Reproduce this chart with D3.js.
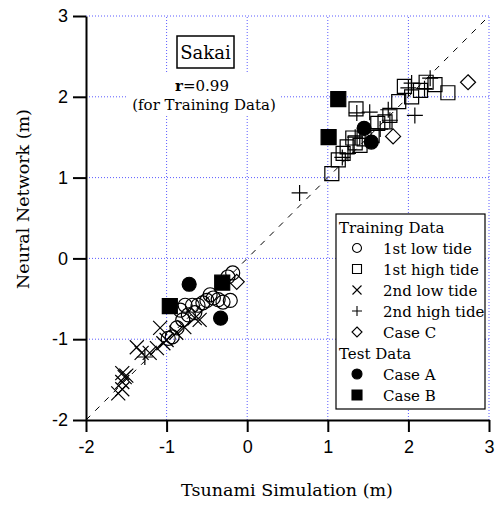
<!DOCTYPE html>
<html>
<head>
<meta charset="utf-8">
<script src="https://cdn.jsdelivr.net/npm/d3@7"></script>
<style>
  body { margin: 0; background: #fff; }
  svg { display: block; }
</style>
</head>
<body>
<svg width="498" height="506"></svg>
<script>
// ticks
const xTicks = [-2, -1, 0, 1, 2, 3];
const yTicks = [-2, -1, 0, 1, 2, 3];

// training data (x = simulation, y = network)
const lowTide1 = [[-0.18,-0.18],[-0.24,-0.23],[-0.21,-0.52],[-0.30,-0.54],[-0.36,-0.51],[-0.46,-0.45],
  [-0.42,-0.49],[-0.55,-0.55],[-0.61,-0.58],[-0.68,-0.58],[-0.77,-0.58],[-0.83,-0.64],[-0.73,-0.70],
  [-0.80,-0.76],[-0.87,-0.86],[-0.93,-0.97],[-0.98,-0.99],[-0.50,-0.52],[-0.65,-0.67]];
const highTide1 = [[1.05,1.05],[1.13,1.22],[1.19,1.30],[1.24,1.38],[1.34,1.43],[1.40,1.40],[1.31,1.49],
  [1.45,1.48],[1.55,1.52],[1.62,1.67],[1.71,1.69],[1.77,1.77],[1.35,1.85],[1.88,1.94],[1.95,2.13],
  [2.04,2.00],[2.22,2.18],[2.33,2.15],[2.49,2.05],[2.15,2.08]];
const lowTide2 = [[-1.08,-0.86],[-1.37,-1.10],[-1.31,-1.17],[-1.21,-1.17],[-1.12,-1.11],[-1.04,-1.05],
  [-0.65,-0.74],[-0.78,-0.85],[-0.88,-0.92],[-1.55,-1.42],[-1.50,-1.45],[-1.52,-1.47],[-1.55,-1.53],
  [-1.60,-1.67],[-1.55,-1.62],[-0.59,-0.76],[-1.00,-1.01]];
const highTide2 = [[1.36,1.80],[1.52,1.81],[1.75,1.84],[2.08,1.77],[1.77,1.71],[2.00,2.11],[2.27,2.23],
  [2.04,2.17],[1.18,1.25],[1.34,1.50],[0.65,0.81],[1.65,1.60],[1.25,1.30],[2.20,2.10],[-1.27,-1.22]];
const caseC = [[2.74,2.18],[1.81,1.51],[-0.13,-0.29]];
// test data
const caseA = [[1.45,1.61],[1.54,1.44],[-0.72,-0.32],[-0.33,-0.74]];
const caseB = [[1.13,1.97],[1.01,1.50],[-0.96,-0.59],[-0.31,-0.30]];

const legendItems = [
  {head: "Training Data"},
  {label: "1st low tide", shape: "circle", data: lowTide1},
  {label: "1st high tide", shape: "square", data: highTide1},
  {label: "2nd low tide", shape: "times", data: lowTide2},
  {label: "2nd high tide", shape: "plus", data: highTide2},
  {label: "Case C", shape: "diamond", data: caseC},
  {head: "Test Data"},
  {label: "Case A", shape: "dot", data: caseA},
  {label: "Case B", shape: "block", data: caseB}
];

const svg = d3.select("svg");
const x = d3.scaleLinear().domain([-2, 3]).range([86, 489]);
const y = d3.scaleLinear().domain([-2, 3]).range([420, 16]);

const serif = "DejaVu Serif";
const sans = "Liberation Sans";

// path for a marker, s = half size
function shape(type, s) {
  const p = d3.path();
  if (type === "circle" || type === "dot") {
    p.moveTo(s, 0); p.arc(0, 0, s, 0, 2 * Math.PI);
  } else if (type === "square" || type === "block") {
    p.rect(-s, -s, 2 * s, 2 * s);
  } else if (type === "times") {
    p.moveTo(-s, -s); p.lineTo(s, s); p.moveTo(s, -s); p.lineTo(-s, s);
  } else if (type === "plus") {
    p.moveTo(-s, 0); p.lineTo(s, 0); p.moveTo(0, -s); p.lineTo(0, s);
  } else if (type === "diamond") {
    p.moveTo(0, -s); p.lineTo(s, 0); p.lineTo(0, s); p.lineTo(-s, 0); p.closePath();
  }
  return p.toString();
}
const plotSize = {circle: 7, square: 7, times: 7, plus: 8, diamond: 7.5, dot: 7, block: 7.5};
const legSize = {circle: 4.5, square: 4.5, times: 4.5, plus: 5, diamond: 5, dot: 5, block: 5};
const filled = t => t === "dot" || t === "block";

// grid
const grid = svg.append("g").attr("stroke", "#5b5bff").attr("stroke-width", 1)
  .attr("stroke-dasharray", "1,2");
grid.selectAll(".gx").data(xTicks.slice(1)).join("line")
  .attr("x1", d => x(d)).attr("x2", d => x(d)).attr("y1", y(-2)).attr("y2", y(3));
grid.selectAll(".gy").data(yTicks.slice(1)).join("line")
  .attr("y1", d => y(d)).attr("y2", d => y(d)).attr("x1", x(-2)).attr("x2", x(3));

// diagonal 1:1 line
svg.append("line")
  .attr("x1", x(-2)).attr("y1", y(-2)).attr("x2", x(3)).attr("y2", y(3))
  .attr("stroke", "#000").attr("stroke-width", 1).attr("stroke-dasharray", "6,7");

// points
legendItems.filter(d => d.data).forEach(item => {
  svg.append("g").selectAll("path").data(item.data).join("path")
    .attr("transform", d => `translate(${x(d[0])},${y(d[1])})`)
    .attr("d", shape(item.shape, plotSize[item.shape]))
    .attr("fill", filled(item.shape) ? "#000" : "none")
    .attr("stroke", "#000")
    .attr("stroke-width", 1.2);
});

// axes (plain hyphen for negatives)
const fmt = d => String(d);
const xAxis = svg.append("g").attr("transform", `translate(0,${y(-2)})`)
  .call(d3.axisBottom(x).tickValues(xTicks).tickFormat(fmt).tickSize(12).tickSizeOuter(0));
const yAxis = svg.append("g").attr("transform", `translate(${x(-2)},0)`)
  .call(d3.axisLeft(y).tickValues(yTicks).tickFormat(fmt).tickSize(13).tickSizeOuter(0));
[xAxis, yAxis].forEach(a => {
  a.select(".domain").attr("stroke-width", 2);
  a.selectAll(".tick line").attr("stroke-width", 2);
  a.selectAll(".tick text").attr("font-family", sans).attr("font-size", 18).attr("fill", "#000");
});
xAxis.selectAll(".tick text").attr("dy", "1.15em").attr("y", 12);
yAxis.selectAll(".tick text").attr("x", -18);

svg.append("text").attr("x", 287).attr("y", 496).attr("text-anchor", "middle")
  .attr("font-family", serif).attr("font-size", 17.5).text("Tsunami Simulation (m)");
svg.append("text").attr("transform", "translate(29,199) rotate(-90)").attr("text-anchor", "middle")
  .attr("font-family", serif).attr("font-size", 17.5).text("Neural Network (m)");

// site label
svg.append("rect").attr("x", 128).attr("y", 72).attr("width", 152).attr("height", 43).attr("fill", "#fff");
svg.append("rect").attr("x", 177).attr("y", 36).attr("width", 57).attr("height", 32)
  .attr("fill", "#fff").attr("stroke", "#000").attr("stroke-width", 1.5);
svg.append("text").attr("x", 205.5).attr("y", 59).attr("text-anchor", "middle")
  .attr("font-family", serif).attr("font-size", 18).text("Sakai");
const rt = svg.append("text").attr("x", 202).attr("y", 91).attr("text-anchor", "middle")
  .attr("font-family", serif).attr("font-size", 15);
rt.append("tspan").attr("font-weight", "bold").text("r");
rt.append("tspan").text("=0.99");
svg.append("text").attr("x", 204).attr("y", 110).attr("text-anchor", "middle")
  .attr("font-family", serif).attr("font-size", 15).text("(for Training Data)");

// legend
const leg = svg.append("g");
leg.append("rect").attr("x", 336).attr("y", 214).attr("width", 149).attr("height", 195)
  .attr("fill", "#fff").attr("stroke", "#000").attr("stroke-width", 1.2);
const rowY = d3.scaleLinear().domain([0, 8]).range([233, 401]);
legendItems.forEach((item, i) => {
  if (item.head) {
    leg.append("text").attr("x", 339).attr("y", rowY(i))
      .attr("font-family", serif).attr("font-size", 15).text(item.head);
  } else {
    leg.append("path").attr("transform", `translate(357,${rowY(i) - 6})`)
      .attr("d", shape(item.shape, legSize[item.shape]))
      .attr("fill", filled(item.shape) ? "#000" : "none")
      .attr("stroke", "#000").attr("stroke-width", 1.1);
    leg.append("text").attr("x", 383).attr("y", rowY(i))
      .attr("font-family", serif).attr("font-size", 15).text(item.label);
  }
});
</script>
</body>
</html>
